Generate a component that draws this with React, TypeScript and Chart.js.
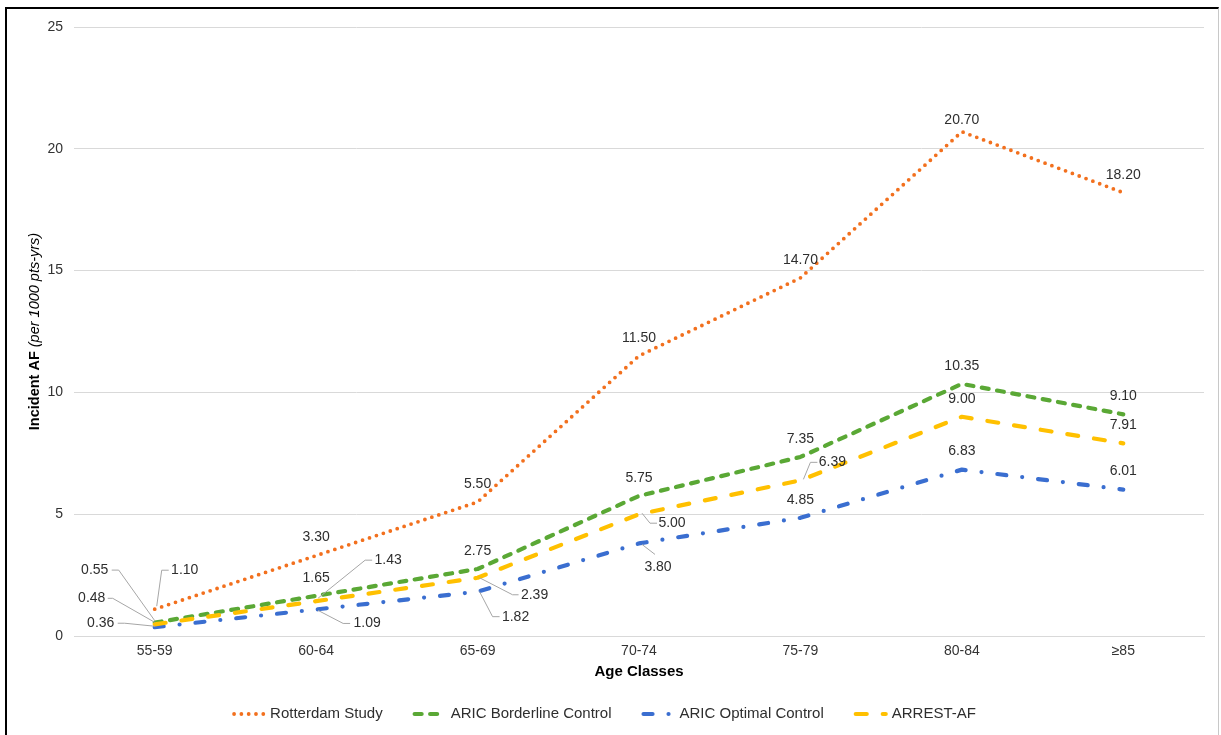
import React, { useEffect, useRef } from "react";
import { Chart, registerables } from "chart.js";

Chart.register(...registerables);

// Age classes on the x axis
const ageClasses = ["55-59", "60-64", "65-69", "70-74", "75-79", "80-84", "≥85"];

// Incident AF per 1000 patient-years
const rotterdamStudy = [1.1, 3.3, 5.5, 11.5, 14.7, 20.7, 18.2];
const aricBorderline = [0.55, 1.65, 2.75, 5.75, 7.35, 10.35, 9.1];
const aricOptimal = [0.36, 1.09, 1.82, 3.8, 4.85, 6.83, 6.01];
const arrestAF = [0.48, 1.43, 2.39, 5.0, 6.39, 9.0, 7.91];

const seriesNames = ["Rotterdam Study", "ARIC Borderline Control", "ARIC Optimal Control", "ARREST-AF"];

const yTicks = [0, 5, 10, 15, 20, 25];

const FONT = "'Liberation Sans', Arial, sans-serif";

type Style = { color: string; width: number; dash: number[] };
const STYLES: Style[] = [
  { color: "#F2701E", width: 3.8, dash: [0, 7.3] },
  { color: "#5AA835", width: 4.2, dash: [7, 8.5] },
  { color: "#3A6ED0", width: 4.2, dash: [9, 16, 0, 16] },
  { color: "#FFC000", width: 4.2, dash: [11, 16] },
];

// Label placement relative to its point: text centre (dx, dy) and an optional leader polyline.
type LabelSpec = { dx: number; dy: number; leader?: number[][] } | null;
const LABEL_LAYOUT: LabelSpec[][] = [
  [
    { dx: 30, dy: -39, leader: [[14, -39], [7, -39], [2, -3]] },
    null, null, null, null,
    { dx: 0, dy: -12 },
    null,
  ],
  [
    { dx: -60, dy: -52.5, leader: [[-43, -52.5], [-36, -52.5], [0, -2]] },
    null, null, null, null, null, null,
  ],
  [
    { dx: -54, dy: -4, leader: [[-37, -4], [-30, -4], [0, -1]] },
    { dx: 51, dy: 14, leader: [[34, 14], [27, 14], [2, 1]] },
    { dx: 38, dy: 25, leader: [[22, 25], [15, 25], [2, 0]] },
    { dx: 19, dy: 24, leader: [[16, 11], [3, 1]] },
    null, null, null,
  ],
  [
    { dx: -63, dy: -26, leader: [[-47, -26], [-42, -26], [0, -2]] },
    { dx: 72, dy: -41, leader: [[56, -41], [49, -41], [2, -3]] },
    { dx: 57, dy: 17, leader: [[41, 17], [35, 17], [2, 0]] },
    { dx: 33, dy: 9, leader: [[18, 9], [11, 9], [3, -1]] },
    { dx: 32, dy: -18, leader: [[17, -18], [10, -18], [3, -1]] },
    null, null,
  ],
];

const decorations = {
  id: "decorations",
  afterDatasetsDraw(chart: any) {
    const ctx = chart.ctx as CanvasRenderingContext2D;
    const area = chart.chartArea;

    // value labels with leader lines
    ctx.save();
    ctx.font = `14px ${FONT}`;
    ctx.fillStyle = "#2E2E2E";
    ctx.textAlign = "center";
    ctx.textBaseline = "middle";
    chart.data.datasets.forEach((ds: any, di: number) => {
      const meta = chart.getDatasetMeta(di);
      meta.data.forEach((pt: any, i: number) => {
        const v = ds.data[i] as number;
        const spec = LABEL_LAYOUT[di][i];
        const dx = spec ? spec.dx : 0;
        const dy = spec ? spec.dy : -18;
        if (spec && spec.leader) {
          ctx.save();
          ctx.strokeStyle = "#A6A6A6";
          ctx.lineWidth = 1;
          ctx.beginPath();
          spec.leader.forEach(([lx, ly], k) => {
            if (k === 0) ctx.moveTo(pt.x + lx, pt.y + ly);
            else ctx.lineTo(pt.x + lx, pt.y + ly);
          });
          ctx.stroke();
          ctx.restore();
        }
        ctx.fillText(v.toFixed(2), pt.x + dx, pt.y + dy);
      });
    });
    ctx.restore();

    // y axis title: bold part followed by italic part
    ctx.save();
    const bold = "Incident AF";
    const ital = " (per 1000 pts-yrs)";
    ctx.font = `bold 14.5px ${FONT}`;
    const wb = ctx.measureText(bold).width;
    ctx.font = `italic 14.5px ${FONT}`;
    const wi = ctx.measureText(ital).width;
    const cy = (area.top + area.bottom) / 2;
    ctx.translate(35, cy);
    ctx.rotate(-Math.PI / 2);
    ctx.fillStyle = "#000";
    ctx.textBaseline = "middle";
    ctx.textAlign = "left";
    const start = -(wb + wi) / 2;
    ctx.font = `bold 14.5px ${FONT}`;
    ctx.fillText(bold, start, 0);
    ctx.font = `italic 14.5px ${FONT}`;
    ctx.fillText(ital, start + wb, 0);
    ctx.restore();

    // x axis title
    ctx.save();
    ctx.font = `bold 15px ${FONT}`;
    ctx.fillStyle = "#000";
    ctx.textAlign = "center";
    ctx.textBaseline = "middle";
    ctx.fillText("Age Classes", (area.left + area.right) / 2, area.bottom + 36);
    ctx.restore();

    // legend
    ctx.save();
    ctx.font = `15px ${FONT}`;
    const sample = 34;
    const gap = 4;
    const spacing = 30;
    const widths = seriesNames.map((n) => sample + gap + ctx.measureText(n).width);
    const total = widths.reduce((a, b) => a + b, 0) + spacing * (widths.length - 1);
    let x = 604 - total / 2;
    const ly = area.bottom + 78;
    seriesNames.forEach((name, i) => {
      const st = STYLES[i];
      ctx.save();
      ctx.strokeStyle = st.color;
      ctx.lineWidth = st.width;
      ctx.lineCap = "round";
      ctx.setLineDash(st.dash);
      ctx.beginPath();
      ctx.moveTo(x + 2, ly);
      ctx.lineTo(x + sample - 2, ly);
      ctx.stroke();
      ctx.restore();
      ctx.fillStyle = "#2E2E2E";
      ctx.textAlign = "left";
      ctx.textBaseline = "middle";
      ctx.fillText(name, x + sample + gap, ly);
      x += widths[i] + spacing;
    });
    ctx.restore();
  },
};

export default function App() {
  const canvasRef = useRef<HTMLCanvasElement>(null);

  useEffect(() => {
    const canvas = canvasRef.current;
    if (!canvas) return;
    const seriesData = [rotterdamStudy, aricBorderline, aricOptimal, arrestAF];
    const chart = new Chart(canvas, {
      type: "line",
      data: {
        labels: ageClasses,
        datasets: seriesData.map((d, i) => ({
          label: seriesNames[i],
          data: d,
          borderColor: STYLES[i].color,
          backgroundColor: STYLES[i].color,
          borderWidth: STYLES[i].width,
          borderDash: STYLES[i].dash,
          borderCapStyle: "round" as const,
          borderJoinStyle: "round" as const,
          pointRadius: 0,
          pointHoverRadius: 0,
          tension: 0,
          fill: false,
          order: i === 0 ? 0 : 4 - i,
        })),
      },
      options: {
        responsive: false,
        animation: false,
        devicePixelRatio: 1,
        layout: { padding: { left: 0, top: 27, right: 17, bottom: 0 } },
        plugins: {
          legend: { display: false },
          tooltip: { enabled: false },
        },
        scales: {
          x: {
            type: "category",
            offset: true,
            grid: { display: false, drawTicks: false },
            border: { display: true, color: "#D9D9D9", width: 1 },
            ticks: {
              color: "#333333",
              font: { family: FONT, size: 14 },
              padding: 7,
              maxRotation: 0,
              autoSkip: false,
            },
            afterFit: (scale: any) => {
              scale.height = 99;
            },
          },
          y: {
            min: 0,
            max: 25,
            afterBuildTicks: (scale: any) => {
              scale.ticks = yTicks.map((v) => ({ value: v }));
            },
            grid: { color: "#D9D9D9", lineWidth: 1, drawTicks: false },
            border: { display: false },
            ticks: {
              color: "#333333",
              font: { family: FONT, size: 14 },
              padding: 11,
            },
            afterFit: (scale: any) => {
              scale.width = 74;
            },
          },
        },
      },
      plugins: [decorations],
    });
    return () => chart.destroy();
  }, []);

  return (
    <div
      style={{
        position: "fixed",
        left: 0,
        top: 0,
        width: 1221,
        height: 735,
        overflow: "hidden",
        background: "#fff",
      }}
    >
      <div
        style={{
          position: "absolute",
          left: 5,
          top: 7,
          width: 1211,
          height: 800,
          borderLeft: "2px solid #000",
          borderTop: "2px solid #000",
          borderRight: "1px solid #C8C8C8",
        }}
      />
      <canvas
        ref={canvasRef}
        width={1221}
        height={735}
        style={{ position: "absolute", left: 0, top: 0, width: 1221, height: 735 }}
      />
    </div>
  );
}
